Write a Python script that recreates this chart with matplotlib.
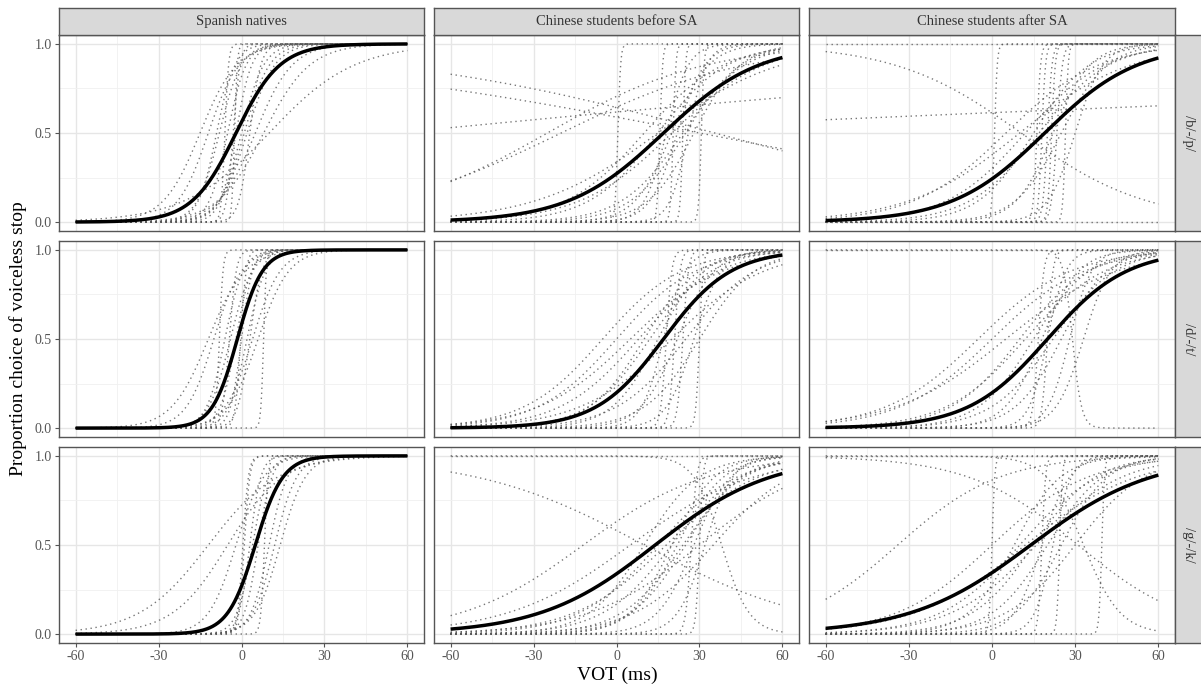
import numpy as np
import matplotlib
matplotlib.use("Agg")
import matplotlib.pyplot as plt

plt.rcParams['font.family'] = ['Liberation Serif', 'DejaVu Serif']

groups = ['Spanish natives', 'Chinese students before SA', 'Chinese students after SA']
contrasts = ['/b/-/p/', '/d/-/t/', '/g/-/k/']

x_ticks = [-60, -30, 0, 30, 60]
y_ticks = [0.0, 0.5, 1.0]

# mean fitted curves: (midpoint in ms, slope per ms), row = contrast, col = group
mean_mid = [[-2, 17, 19],
            [-1.5, 17, 20],
            [5, 14, 14]]
mean_slope = [[0.126, 0.058, 0.06],
              [0.22, 0.082, 0.07],
              [0.2, 0.048, 0.046]]

# individual participant curves
ind_mid = {
    (0, 0): [-6, -3, -12, -8, -5, -2, 0, 2, 5, 8, 10, -2.5, 3, -9, 1, -15],
    (0, 1): [35.5, 30, -25, -20, -80, 15, 0.5, 15.7, 20.5, 24, 30.7, 20, 25, 15, 22, 28, 10, 18, 26, 20, 24],
    (0, 2): [-200, 10.5, -169, 0.9, 16.2, 18, 20, 21.5, 23.4, 26.5, 5, 200, 12, 15, 22, 25, 30, 10, 17],
    (1, 0): [-8, -4.4, -0.3, 8, -6, -4, 2, 4, 6, -10, 0, -2, 3, -12],
    (1, 1): [0, -5, 5, 10, 18, 21, 24, 30, 25, 30, 22, 15, 20, 12, 28, 8, 17],
    (1, 2): [-200, 29, -5, 0, 10, 15, 16.7, 20, 25, 33, 18, 22, 12, 28, 5, 20],
    (2, 0): [-5, -2, 0.5, 3, 8.3, 10, 12, 14, 6, 1, 4, -12],
    (2, 1): [-200, 10, 38, -12, 5, 15, 20, 25, 22, 28, 30, 27, 18, 30, 10, 35, 24, 32, 20],
    (2, 2): [-200, 31, 33, 0, 24.4, 39.6, 18, -34, 0, 10, 15, 20, 25, 12, 30, 8, 18, 22, 16],
}
ind_slope = {
    (0, 0): [1.5, 0.8, 0.18, 0.25, 0.3, 0.35, 0.25, 0.2, 0.15, 0.12, 0.065, 2.0, 0.5, 0.3, 0.22, 0.15],
    (0, 1): [-0.0166, -0.012, 0.035, 0.03, 0.006, 0.045, 2.0, 2.0, 2.0, 2.0, 2.0, 0.15, 0.1, 0.08, 0.2, 0.12,
             0.07, 0.25, 0.3, 0.06, 0.09],
    (0, 2): [0.1, -0.044, 0.00275, 2.0, 1.5, 1.5, 1.2, 1.5, 1.0, 2.0, 0.06, 0.1, 0.07, 0.1, 0.15, 0.12, 0.2,
             0.05, 0.08],
    (1, 0): [1.5, 0.8, 1.0, 2.0, 0.3, 0.25, 0.3, 0.2, 0.18, 0.2, 0.5, 0.35, 0.45, 0.15],
    (1, 1): [0.07, 0.07, 0.06, 0.1, 1.0, 1.0, 1.0, 1.5, 0.08, 0.1, 0.15, 0.12, 0.06, 0.09, 0.2, 0.07, 0.25],
    (1, 2): [0.1, -0.6, 0.06, 0.06, 0.08, 0.1, 1.0, 1.0, 0.12, 0.2, 0.15, 0.09, 0.07, 0.25, 0.05, 0.3],
    (2, 0): [0.1, 0.2, 1.0, 0.5, 1.5, 0.3, 0.25, 0.22, 0.4, 1.0, 0.35, 0.08],
    (2, 1): [0.1, -0.033, -0.2, 0.045, 0.045, 0.07, 0.08, 0.1, 0.12, 0.15, 1.5, 1.0, 0.06, 0.05, 0.1, 0.07,
             0.09, 0.2, 0.13],
    (2, 2): [0.1, -0.0507, -0.15, 2.0, 2.0, 2.0, 1.5, 0.0545, 0.058, 0.07, 0.09, 0.1, 0.12, 0.05, 0.08, 0.12,
             0.2, 0.3, 0.065],
}

W, H = 1201, 689
col_px = [(59, 424), (434, 799), (809, 1175)]
row_px = [(35, 231), (241, 437), (447, 643)]

vot = np.linspace(-60, 60, 481)


def logistic(x, mid, k):
    return 1.0 / (1.0 + np.exp(-k * (x - mid)))


def px_axes(fig, x0, y0, x1, y1):
    return fig.add_axes([x0 / W, 1 - y1 / H, (x1 - x0) / W, (y1 - y0) / H])


fig = plt.figure(figsize=(W / 100, H / 100), dpi=100)
fig.patch.set_facecolor('white')

border = '#555555'
for r in range(3):
    for c in range(3):
        x0, x1 = col_px[c]
        y0, y1 = row_px[r]
        ax = px_axes(fig, x0, y0, x1, y1)
        for m, k in zip(ind_mid[(r, c)], ind_slope[(r, c)]):
            ax.plot(vot, logistic(vot, m, k), color='#555555', alpha=0.8,
                    lw=1.0, linestyle=(0, (1, 2.6)))
        ax.plot(vot, logistic(vot, mean_mid[r][c], mean_slope[r][c]),
                color='black', lw=2.5, solid_capstyle='butt')
        ax.set_xlim(-66, 66)
        ax.set_ylim(-0.05, 1.05)
        ax.set_xticks(x_ticks)
        ax.set_xticks([-45, -15, 15, 45], minor=True)
        ax.set_yticks(y_ticks)
        ax.set_yticks([0.25, 0.75], minor=True)
        ax.grid(which='major', color='#E6E6E6', lw=1.0)
        ax.grid(which='minor', color='#F0F0F0', lw=0.6)
        ax.set_axisbelow(True)
        ax.tick_params(which='minor', length=0)
        ax.tick_params(which='major', length=3, color='#555555',
                       labelsize=10, labelcolor='#555555', pad=2)
        for s in ax.spines.values():
            s.set_color(border)
            s.set_linewidth(1.0)
        if c == 0:
            ax.set_yticklabels(['0.0', '0.5', '1.0'])
        else:
            ax.tick_params(axis='y', labelleft=False, length=0)
        if r == 2:
            ax.set_xticklabels([str(t) for t in x_ticks])
        else:
            ax.tick_params(axis='x', labelbottom=False, length=0)

# top strips
for c in range(3):
    x0, x1 = col_px[c]
    sa = px_axes(fig, x0, 8, x1, 35)
    sa.set_facecolor('#D9D9D9')
    sa.set_xticks([])
    sa.set_yticks([])
    for s in sa.spines.values():
        s.set_color(border)
        s.set_linewidth(1.0)
    sa.text(0.5, 0.5, groups[c], ha='center', va='center', fontsize=10.5,
            color='#333333', transform=sa.transAxes)

# right strips
for r in range(3):
    y0, y1 = row_px[r]
    sa = px_axes(fig, 1175, y0, 1204, y1)
    sa.set_facecolor('#D9D9D9')
    sa.set_xticks([])
    sa.set_yticks([])
    for s in sa.spines.values():
        s.set_color(border)
        s.set_linewidth(1.0)
    sa.text(0.45, 0.5, contrasts[r], ha='center', va='center', fontsize=10.5,
            color='#333333', rotation=-90, transform=sa.transAxes)

fig.text(617 / W, 1 - 675 / H, 'VOT (ms)', ha='center', va='center', fontsize=14)
fig.text(18 / W, 1 - 339 / H, 'Proportion choice of voiceless stop', ha='center',
         va='center', fontsize=14, rotation=90)

fig.savefig('out.png', dpi=100)
